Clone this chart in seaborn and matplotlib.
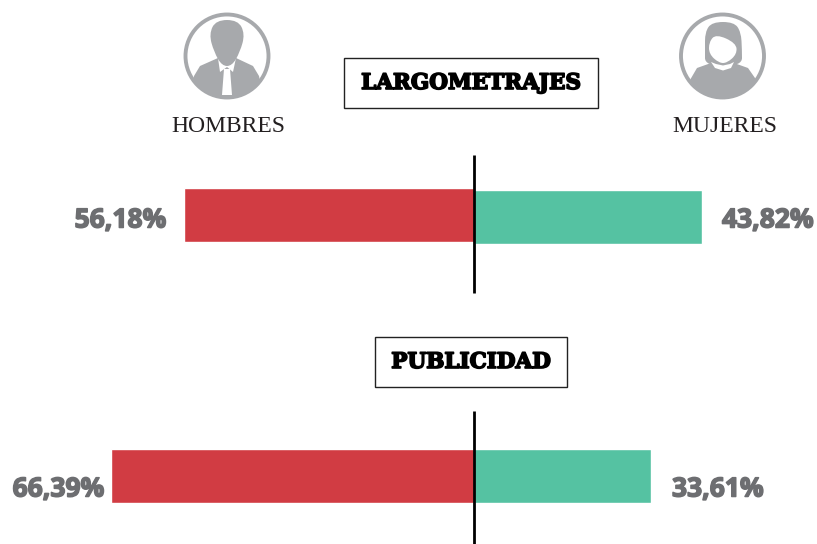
#!/usr/bin/env python

import matplotlib
matplotlib.use('Agg')
import matplotlib.pyplot as plt
import matplotlib.patheffects as pe
from matplotlib.patches import Circle, PathPatch, Polygon, Rectangle
from matplotlib.path import Path
import pandas as pd
import seaborn as sns

sections = ['LARGOMETRAJES', 'PUBLICIDAD']
hombres = [56.18, 66.39]
mujeres = [43.82, 33.61]
labels = ['56,18%', '66,39%']
labels_m = ['43,82%', '33,61%']

RED = '#d13c43'
GREEN = '#55c2a2'
GREY = '#a7a9ac'
TEXT = '#6d6e71'

W, H = 817, 544
sns.set_theme(style='white')
fig = plt.figure(figsize=(W / 100, H / 100), dpi=100)

# whole figure in reference pixels, for icons and text
bg = fig.add_axes([0, 0, 1, 1])
bg.set_xlim(0, W)
bg.set_ylim(H, 0)
bg.axis('off')


def bar(value, color, x, width, top, bottom, invert):
    # one axes per bar, the picture does not use one common scale
    ax = fig.add_axes([x / W, 1 - bottom / H, width / W, (bottom - top) / H])
    df = pd.DataFrame({'pct': [value], 'cat': ['x']})
    sns.barplot(data=df, x='pct', y='cat', color=color, width=1, saturation=1, ax=ax)
    ax.set_xlim(0, value)
    if invert:
        ax.invert_xaxis()
    ax.axis('off')


bar(hombres[0], RED, 184, 290, 188, 242, True)
bar(mujeres[0], GREEN, 474, 228, 190, 244, False)
bar(hombres[1], RED, 111, 363, 449, 503, True)
bar(mujeres[1], GREEN, 474, 177, 449, 503, False)

# axis lines on top of the bars
top_ax = fig.add_axes([0, 0, 1, 1], facecolor='none')
top_ax.set_xlim(0, W)
top_ax.set_ylim(H, 0)
top_ax.axis('off')
top_ax.plot([474, 474], [155, 293], color='black', lw=2, solid_capstyle='butt')
top_ax.plot([474, 474], [411, 544], color='black', lw=2, solid_capstyle='butt')

# section boxes
for name, box, cy in zip(sections, [(344, 58, 254, 50), (375, 337, 192, 50)], [83, 362]):
    bg.add_patch(Rectangle(box[:2], box[2], box[3], fc='white', ec='#222222', lw=1))
    bg.text(box[0] + box[2] / 2, cy, name, ha='center', va='center', fontsize=15.5,
            family='DejaVu Serif', weight='bold', color='black',
            path_effects=[pe.withStroke(linewidth=1.2, foreground='black')])

# values
stroke = [pe.withStroke(linewidth=1.1, foreground=TEXT)]
val_font = dict(va='center', fontsize=19, family='Open Sans', weight='bold', color=TEXT,
                path_effects=stroke)
bg.text(166, 220, labels[0], ha='right', **val_font)
bg.text(722, 220, labels_m[0], ha='left', **val_font)
bg.text(104, 489, labels[1], ha='right', **val_font)
bg.text(672, 489, labels_m[1], ha='left', **val_font)

# people
bg.text(228.5, 127, 'HOMBRES', ha='center', va='center', fontsize=17,
        family='Liberation Serif', color='#231f20')
bg.text(724.5, 127, 'MUJERES', ha='center', va='center', fontsize=17,
        family='Liberation Serif', color='#231f20')


def blob(points, color, clip=None):
    # closed smooth outline through the midpoints of the given corners
    mids = [((a[0] + b[0]) / 2, (a[1] + b[1]) / 2)
            for a, b in zip(points, points[1:] + points[:1])]
    verts = [mids[-1]]
    codes = [Path.MOVETO]
    for p, m in zip(points, mids):
        verts += [p, m]
        codes += [Path.CURVE3, Path.CURVE3]
    patch = PathPatch(Path(verts, codes), fc=color, ec='none')
    bg.add_patch(patch)
    if clip is not None:
        patch.set_clip_path(clip)


def ring(cx, cy):
    bg.add_patch(Circle((cx, cy), 41.5, fc='white', ec=GREY, lw=2.8))
    return Circle((cx, cy), 41, transform=bg.transData)


clip = ring(227, 56)
body = Polygon([(190, 100), (194, 76), (200, 66), (218, 58), (236, 58), (253, 66),
                (259, 76), (264, 100)], fc=GREY, ec='none')
bg.add_patch(body)
body.set_clip_path(clip)
bg.add_patch(Polygon([(218, 58), (220, 72), (227, 67), (233, 72), (236, 58)], fc='white', ec='none'))
bg.add_patch(Polygon([(224, 69), (230, 69), (232, 95), (222, 95)], fc='white', ec='none'))
blob([(216, 20), (238, 20), (245, 34), (240, 52), (232, 66), (222, 66), (214, 52), (209, 34)], GREY)

clip2 = ring(722.5, 56)
shoulders = Polygon([(686, 100), (690, 80), (697, 68), (711, 63), (734, 63), (748, 68),
                     (755, 78), (760, 100)], fc=GREY, ec='none')
bg.add_patch(shoulders)
shoulders.set_clip_path(clip2)
blob([(712, 22), (734, 22), (741, 32), (742, 50), (742, 66), (705, 66), (705, 50), (705, 32)], GREY)
# collar
bg.add_patch(Polygon([(711, 62), (716, 64), (723, 65.5), (730, 64), (734, 62), (731, 68),
                      (723, 70.5), (715, 68)], fc='white', ec='none'))
# face with the fringe cut across it
blob([(709, 42), (716, 34), (736, 43), (737, 54), (727, 63), (719, 63), (709, 54)], 'white')

fig.savefig('out.png', dpi=100)
